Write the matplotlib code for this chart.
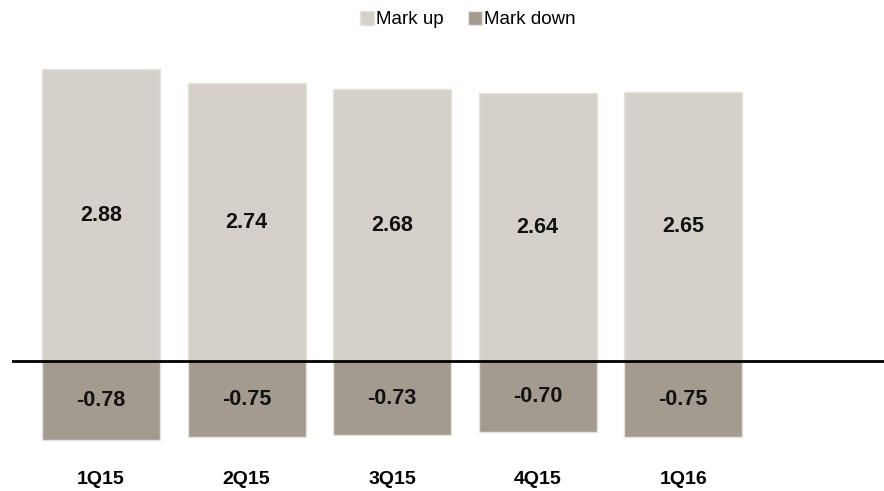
import numpy as np
import matplotlib
matplotlib.use('Agg')
import matplotlib.pyplot as plt

# Datos
quarters = ['1Q15', '2Q15', '3Q15', '4Q15', '1Q16']
mark_up = [2.88, 2.74, 2.68, 2.64, 2.65]
mark_down = [-0.78, -0.75, -0.73, -0.70, -0.75]

up_color = '#d5d1ca'
down_color = '#a39b8f'

plt.rcParams['font.family'] = ['Liberation Sans', 'DejaVu Sans']

fig = plt.figure(figsize=(8.84, 4.91), dpi=100)
ax = fig.add_axes([12 / 884, 41 / 491, 872 / 884, 390 / 491])

x = np.arange(len(quarters))
w = 0.81
ax.bar(x, mark_up, w, color=up_color, edgecolor='#e6e3de', linewidth=1, label='Mark up')
ax.bar(x, mark_down, w, color=down_color, edgecolor='#e6e3de', linewidth=1, label='Mark down')

# Etiquetas de valor en el centro de cada barra
for i in range(len(quarters)):
    ax.text(x[i], mark_up[i] / 2, f'{mark_up[i]:.2f}', ha='center', va='center',
            fontsize=15.5, fontweight='bold', color='#111111')
    ax.text(x[i], mark_down[i] / 2, f'{mark_down[i]:.2f}', ha='center', va='center',
            fontsize=15.5, fontweight='bold', color='#111111')

ax.axhline(0, color='black', linewidth=2)

ax.set_xlim(-0.612, 5.38)
ax.set_ylim(-0.878, 2.97)
ax.set_xticks(x)
ax.set_xticklabels(quarters, fontsize=14, fontweight='bold')
ax.tick_params(axis='x', length=0, pad=15)
ax.set_yticks([])
for s in ax.spines.values():
    s.set_visible(False)

fig.legend(loc='upper center', bbox_to_anchor=(0.529, 1.012), ncol=2, frameon=False,
           fontsize=13.5, handlelength=0.75, handleheight=0.75, handletextpad=0.1,
           columnspacing=1.3)

fig.savefig('out.png', dpi=100)
